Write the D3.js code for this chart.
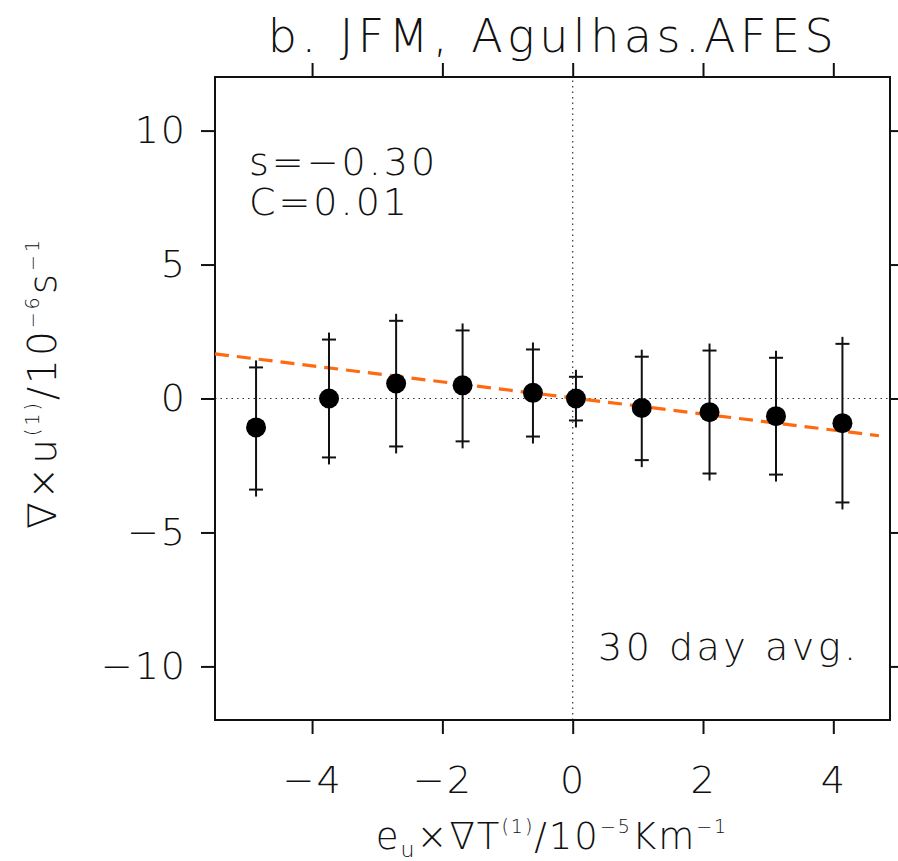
<!DOCTYPE html>
<html>
<head>
<meta charset="utf-8">
<script src="https://cdn.jsdelivr.net/npm/d3@7"></script>
<style>
  body { margin: 0; background: #fff; }
  svg text { font-family: "DejaVu Sans", sans-serif; font-weight: 200; fill: #111; }
</style>
</head>
<body>
<div id="container"></div>
<script>
// bin centres, means and error bar ends
const xBins  = [-4.86, -3.74, -2.71, -1.69, -0.61, 0.05, 1.06, 2.10, 3.12, 4.14];
const yMean  = [-1.08, 0.00, 0.56, 0.49, 0.21, 0.00, -0.35, -0.51, -0.66, -0.92];
const yUpper = [1.16, 2.20, 2.90, 2.54, 1.83, 0.81, 1.56, 1.79, 1.52, 2.04];
const yLower = [-3.40, -2.20, -1.79, -1.60, -1.42, -0.82, -2.30, -2.80, -2.84, -3.88];
const fitSlope = -0.30;
const fitIntercept = 0.02;
const fitRange = [-5.49, 4.70];
const xTicks = [-4, -2, 0, 2, 4];
const yTicks = [-10, -5, 0, 5, 10];

const width = 898, height = 861;
const margin = {top: 77, right: 8, bottom: 141, left: 215};

const svg = d3.select("#container").append("svg")
    .attr("width", width)
    .attr("height", height);

const x = d3.scaleLinear().domain([-5.49, 4.87]).range([margin.left, width - margin.right]);
const y = d3.scaleLinear().domain([-12, 12]).range([height - margin.bottom, margin.top]);

const data = xBins.map((d, i) => ({x: d, y: yMean[i], hi: yUpper[i], lo: yLower[i]}));

// zero lines
svg.append("line")
    .attr("x1", x.range()[0]).attr("x2", x.range()[1])
    .attr("y1", y(0)).attr("y2", y(0))
    .attr("stroke", "#333").attr("stroke-width", 1.2).attr("stroke-dasharray", "1.5,4");
svg.append("line")
    .attr("x1", x(0)).attr("x2", x(0))
    .attr("y1", y.range()[0]).attr("y2", y.range()[1])
    .attr("stroke", "#333").attr("stroke-width", 1.2).attr("stroke-dasharray", "1.5,4");

// axes, ticks pointing outward on all four sides
const tickLen = 14;
const fmt = d => d < 0 ? "\u2212" + Math.abs(d) : d;
const xAxis = svg.append("g")
    .attr("transform", `translate(0,${y.range()[0]})`)
    .call(d3.axisBottom(x).tickValues(xTicks).tickSize(tickLen).tickPadding(32).tickFormat(fmt));
const xTop = svg.append("g")
    .attr("transform", `translate(0,${y.range()[1]})`)
    .call(d3.axisTop(x).tickValues(xTicks).tickSize(tickLen).tickFormat(""));
const yAxis = svg.append("g")
    .attr("transform", `translate(${x.range()[0]},0)`)
    .call(d3.axisLeft(y).tickValues(yTicks).tickSize(tickLen).tickPadding(14).tickFormat(fmt));
const yRight = svg.append("g")
    .attr("transform", `translate(${x.range()[1]},0)`)
    .call(d3.axisRight(y).tickValues(yTicks).tickSize(tickLen).tickFormat(""));

[xAxis, xTop, yAxis, yRight].forEach(g => {
  g.select(".domain").remove();
  g.selectAll(".tick line").attr("stroke", "#111").attr("stroke-width", 2);
  g.selectAll(".tick text").attr("font-size", 38).attr("fill", "#111")
    .style("font-family", "DejaVu Sans, sans-serif").style("font-weight", 200)
    .style("letter-spacing", "2px");
});

// frame
svg.append("rect")
    .attr("x", x.range()[0]).attr("y", y.range()[1])
    .attr("width", x.range()[1] - x.range()[0])
    .attr("height", y.range()[0] - y.range()[1])
    .attr("fill", "none").attr("stroke", "#111").attr("stroke-width", 2);

// regression line
svg.append("line")
    .attr("x1", x(fitRange[0])).attr("y1", y(fitIntercept + fitSlope * fitRange[0]))
    .attr("x2", x(fitRange[1])).attr("y2", y(fitIntercept + fitSlope * fitRange[1]))
    .attr("stroke", "#ff6a10").attr("stroke-width", 3.2).attr("stroke-dasharray", "14,8");

// error bars with "+" ends
const bars = svg.append("g").selectAll("g").data(data).join("g");
bars.append("line")
    .attr("x1", d => x(d.x)).attr("x2", d => x(d.x))
    .attr("y1", d => y(d.hi) - 7).attr("y2", d => y(d.lo) + 7)
    .attr("stroke", "#111").attr("stroke-width", 2);
bars.append("line")
    .attr("x1", d => x(d.x) - 7).attr("x2", d => x(d.x) + 7)
    .attr("y1", d => y(d.hi)).attr("y2", d => y(d.hi))
    .attr("stroke", "#111").attr("stroke-width", 2);
bars.append("line")
    .attr("x1", d => x(d.x) - 7).attr("x2", d => x(d.x) + 7)
    .attr("y1", d => y(d.lo)).attr("y2", d => y(d.lo))
    .attr("stroke", "#111").attr("stroke-width", 2);
bars.append("circle")
    .attr("cx", d => x(d.x)).attr("cy", d => y(d.y))
    .attr("r", 10).attr("fill", "#000");

// title
svg.append("text")
    .attr("x", 553).attr("y", 52)
    .attr("text-anchor", "middle").attr("font-size", 46)
    .style("letter-spacing", "4.5px")
    .text("b. JFM, Agulhas.AFES");

// annotations
svg.append("text").attr("x", 249).attr("y", 175).attr("font-size", 38)
    .style("letter-spacing", "3px").text("s=\u22120.30");
svg.append("text").attr("x", 249).attr("y", 215).attr("font-size", 38)
    .style("letter-spacing", "3px").text("C=0.01");
svg.append("text").attr("x", 598).attr("y", 660)
    .attr("font-size", 38).style("letter-spacing", "3.5px").text("30 day avg.");

// x label
const xl = svg.append("text")
    .attr("x", 552).attr("y", 849)
    .attr("text-anchor", "middle").attr("font-size", 37)
    .style("letter-spacing", "2px");
xl.append("tspan").text("e");
xl.append("tspan").attr("font-size", 22).attr("dy", 8).text("u");
xl.append("tspan").attr("dy", -8).text("\u00d7\u2207T");
xl.append("tspan").attr("font-size", 19).attr("dy", -16).text("(1)");
xl.append("tspan").attr("dy", 16).text("/10");
xl.append("tspan").attr("font-size", 19).attr("dy", -16).text("\u22125");
xl.append("tspan").attr("dy", 16).text("Km");
xl.append("tspan").attr("font-size", 19).attr("dy", -16).text("\u22121");

// y label
const yl = svg.append("text")
    .attr("transform", "translate(56,383) rotate(-90)")
    .attr("text-anchor", "middle").attr("font-size", 39)
    .style("letter-spacing", "3px");
yl.append("tspan").text("\u2207\u00d7u");
yl.append("tspan").attr("font-size", 19).attr("dy", -17).text("(1)");
yl.append("tspan").attr("dy", 17).text("/10");
yl.append("tspan").attr("font-size", 19).attr("dy", -17).text("\u22126");
yl.append("tspan").attr("dy", 17).text("s");
yl.append("tspan").attr("font-size", 19).attr("dy", -17).text("\u22121");
</script>
</body>
</html>
